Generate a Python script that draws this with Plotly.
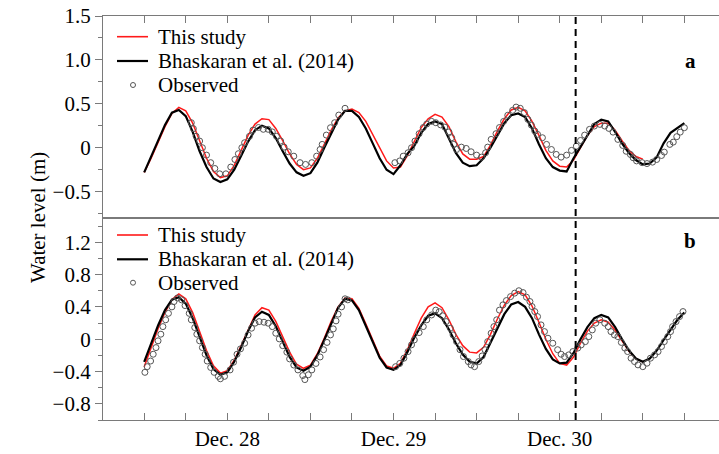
import plotly.graph_objects as go

# hours from Dec 27 12:00, hourly model output
hours = list(range(0, 79))

study_a = [-0.28, -0.12, 0.06, 0.24, 0.39, 0.46, 0.42, 0.28, 0.08, -0.12,
           -0.27, -0.34, -0.32, -0.20, -0.03, 0.14, 0.27, 0.33, 0.32, 0.22,
           0.08, -0.07, -0.19, -0.25, -0.23, -0.12, 0.04, 0.20, 0.34, 0.42,
           0.44, 0.40, 0.30, 0.15, -0.01, -0.15, -0.23, -0.22, -0.09, 0.08,
           0.23, 0.33, 0.38, 0.35, 0.24, 0.07, -0.07, -0.13, -0.13, -0.10,
           0.03, 0.19, 0.33, 0.43, 0.46, 0.42, 0.30, 0.14, -0.03, -0.15,
           -0.21, -0.22, -0.14, 0.00, 0.14, 0.24, 0.28, 0.28, 0.20, 0.08,
           -0.03, -0.10, -0.13, None, None, None, None, None, None]

bhaskaran_a = [-0.28, -0.10, 0.08, 0.26, 0.40, 0.43, 0.36, 0.18, -0.04, -0.22,
               -0.35, -0.39, -0.36, -0.25, -0.09, 0.07, 0.20, 0.25, 0.22, 0.11,
               -0.04, -0.18, -0.28, -0.32, -0.29, -0.17, 0.00, 0.17, 0.32, 0.42,
               0.42, 0.35, 0.22, 0.05, -0.12, -0.25, -0.30, -0.20, -0.07, 0.02,
               0.17, 0.27, 0.30, 0.27, 0.10, -0.06, -0.17, -0.21, -0.20, -0.12,
               0.00, 0.14, 0.28, 0.37, 0.39, 0.35, 0.22, 0.04, -0.12, -0.22,
               -0.26, -0.27, -0.12, 0.01, 0.14, 0.27, 0.32, 0.30, 0.18, 0.05,
               -0.06, -0.14, -0.19, -0.18, -0.11, 0.05, 0.17, 0.23, 0.28]

obs_a_t = [6.8, 7.1, 7.5, 8.0, 8.4, 9.0, 9.6, 10.2, 10.9, 11.8, 12.5, 13.1, 13.6,
           14.1, 14.5, 15.2, 15.7, 16.5, 17.2, 17.9, 18.5, 19.1, 19.7, 20.2, 20.8,
           21.6, 22.5, 23.3, 24.2, 24.9, 25.4, 25.7, 26.3, 26.9, 27.5, 28.1, 29.0,
           None,
           36.2, 36.9, 37.4, 38.1, 38.6, 39.1, 39.7, 40.3, 40.8, 41.5, 42.1, 42.8,
           43.4, 44.0, 44.4, 44.7, 45.1, 45.8, 46.5, 47.2, 48.0, 48.7, 49.3, 49.6,
           50.1, 50.8, 51.3, 51.9, 52.5, 53.2, 53.7, 54.3, 54.9, 55.4, 55.9, 56.4,
           56.8, 57.5, 58.1, 58.8, 59.5, 60.2, 61.0, 61.7, 62.4, 63.0, 63.6, 64.3,
           65.0, 65.8, 66.5, 67.1, 67.7, 68.4, 69.1, 69.6, 70.2, 70.6, 71.1, 71.9,
           72.6, 73.4, 74.0, 74.7, 75.1, 75.9, 76.4, 76.9, 77.4, 78.0]
obs_a_v = [0.285, 0.217, 0.13, 0.076, 0.0, -0.084, -0.17, -0.236, -0.297, -0.297,
           -0.22, -0.134, -0.068, 0.0, 0.057, 0.13, 0.2, 0.23, 0.21, 0.21, 0.18,
           0.13, 0.076, 0.007, -0.046, -0.096, -0.17, -0.19, -0.17, -0.096, -0.02,
           0.038, 0.144, 0.228, 0.285, 0.372, 0.449,
           None,
           -0.17, -0.15, -0.096, -0.057, 0.0, 0.076, 0.16, 0.23, 0.27, 0.30, 0.285,
           0.26, 0.235, 0.18, 0.114, 0.038, -0.02, 0.007, -0.008, -0.046, -0.084,
           -0.107, -0.057, 0.007, 0.095, 0.16, 0.23, 0.30, 0.37, 0.426, 0.463,
           0.449, 0.40, 0.323, 0.258, 0.19, 0.152, 0.114, 0.038, -0.02, -0.076,
           -0.107, -0.084, -0.03, 0.018, 0.083, 0.144, 0.209, 0.247, 0.266, 0.247,
           0.22, 0.178, 0.095, 0.026, -0.04, -0.076, -0.114, -0.15, -0.17, -0.18,
           -0.164, -0.134, -0.088, -0.05, 0.038, 0.064, 0.126, 0.178, 0.228]

study_b = [-0.34, -0.10, 0.13, 0.33, 0.49, 0.56, 0.50, 0.33, 0.10, -0.14,
           -0.33, -0.42, -0.39, -0.26, -0.08, 0.12, 0.30, 0.39, 0.36, 0.22,
           0.03, -0.16, -0.31, -0.36, -0.32, -0.18, 0.01, 0.22, 0.40, 0.51,
           0.50, 0.38, 0.19, -0.02, -0.21, -0.33, -0.36, -0.30, -0.13, 0.07,
           0.26, 0.40, 0.45, 0.39, 0.24, 0.06, -0.08, -0.16, -0.17, -0.10,
           0.06, 0.25, 0.42, 0.54, 0.59, 0.55, 0.41, 0.21, 0.00, -0.18,
           -0.30, -0.32, -0.22, -0.05, 0.10, 0.20, 0.24, 0.21, 0.11, -0.02,
           -0.15, -0.24, -0.28, None, None, None, None, None, None]

bhaskaran_b = [-0.28, -0.05, 0.17, 0.36, 0.49, 0.52, 0.44, 0.26, 0.03, -0.20,
               -0.37, -0.44, -0.41, -0.28, -0.10, 0.10, 0.27, 0.34, 0.30, 0.16,
               -0.03, -0.22, -0.35, -0.39, -0.34, -0.20, -0.01, 0.20, 0.39, 0.50,
               0.48, 0.36, 0.17, -0.04, -0.23, -0.35, -0.38, -0.32, -0.16, 0.02,
               0.17, 0.29, 0.32, 0.26, 0.12, -0.05, -0.19, -0.28, -0.30, -0.22,
               -0.05, 0.14, 0.31, 0.43, 0.46, 0.40, 0.26, 0.06, -0.12, -0.25,
               -0.30, -0.29, -0.17, 0.00, 0.15, 0.26, 0.30, 0.27, 0.15, 0.00,
               -0.14, -0.24, -0.28, -0.24, -0.14, -0.01, 0.12, 0.24, 0.33]

obs_b_t = [0.1, 0.43, 0.92, 1.3, 1.7, 2.0, 2.4, 2.7, 3.1, 3.5, 4.0, 4.3, 4.8, 5.4,
           5.9, 6.5, 6.8, 7.3, 7.6, 8.0, 8.4, 8.8, 9.1, 9.6, 10.1, 10.7, 11.0, 11.6,
           12.4, 12.9, 13.4, 13.9, 14.5, 15.0, 15.5, 16.0, 16.6, 17.3, 17.9, 18.5,
           19.0, 19.5, 20.0, 20.6, 21.0, 21.6, 22.2, 22.9, 23.2, 23.7, 24.2, 24.8,
           25.4, 25.9, 26.4, 26.9, 27.3, 27.7, 28.0, 28.5, 29.0, 29.4,
           None,
           36.3, 36.9, 37.5, 38.1, 38.6, 39.0, 39.7, 40.3, 40.8, 41.5, 42.1, 42.6,
           43.1, 43.6, 44.2, 44.6, 45.1, 45.6, 46.1, 46.8, 47.2, 47.7, 48.3, 48.8,
           49.2, 49.6, 50.1, 50.5, 50.9, 51.3, 51.8, 52.3, 52.9, 53.5, 54.1, 54.7,
           55.2, 55.7, 56.0, 56.4, 56.8, 57.3, 57.8, 58.3, 59.0, 59.7, 60.2, 60.7,
           61.3, 61.9, 62.6, 63.1, 63.7, 64.2, 64.7, 65.2, 65.8, 66.5, 67.0, 67.4,
           67.9, 68.4, 68.9, 69.4, 69.8, 70.3, 70.8, 71.3, 72.0, 72.6, 73.1, 73.7,
           74.2, 74.7, 75.1, 75.6, 76.0, 76.3, 76.8, 77.3, 77.8]
obs_b_v = [-0.41, -0.34, -0.27, -0.186, -0.104, -0.02, 0.062, 0.156, 0.24, 0.32,
           0.40, 0.466, 0.51, 0.487, 0.416, 0.32, 0.24, 0.144, 0.062, -0.02,
           -0.104, -0.186, -0.27, -0.35, -0.41, -0.46, -0.49, -0.46, -0.38, -0.285,
           -0.186, -0.12, -0.05, 0.053, 0.136, 0.198, 0.218, 0.21, 0.198, 0.156,
           0.074, 0.004, -0.08, -0.16, -0.244, -0.32, -0.38, -0.45, -0.50, -0.44,
           -0.38, -0.30, -0.22, -0.13, -0.04, 0.053, 0.128, 0.227, 0.31, 0.40,
           0.50, 0.487,
           None,
           -0.34, -0.30, -0.235, -0.153, -0.07, -0.009, 0.082, 0.156, 0.24, 0.30,
           0.36, 0.34, 0.29, 0.218, 0.136, 0.053, -0.03, -0.13, -0.215, -0.277,
           -0.318, -0.34, -0.277, -0.207, -0.13, -0.03, 0.074, 0.156, 0.24, 0.36,
           0.425, 0.478, 0.527, 0.57, 0.60, 0.577, 0.52, 0.466, 0.404, 0.342,
           0.28, 0.177, 0.094, 0.012, -0.05, -0.13, -0.186, -0.215, -0.194, -0.153,
           -0.11, -0.07, -0.03, 0.032, 0.115, 0.198, 0.24, 0.198, 0.156, 0.094,
           0.053, 0.032, -0.04, -0.11, -0.153, -0.235, -0.277, -0.318, -0.34,
           -0.297, -0.235, -0.194, -0.153, -0.09, -0.03, 0.032, 0.094, 0.156,
           0.218, 0.28, 0.342]

x_tickvals = list(range(0, 79, 6))
x_ticktext = ["", "", "Dec. 28", "", "", "", "Dec. 29", "", "", "", "Dec. 30", "", "", ""]
ya_tickvals = [-0.5, 0, 0.5, 1.0, 1.5]
ya_ticktext = ["\u22120.5", "0", "0.5", "1.0", "1.5"]
yb_tickvals = [-0.8, -0.4, 0, 0.4, 0.8, 1.2]
yb_ticktext = ["\u22120.8", "\u22120.4", "0", "0.4", "0.8", "1.2"]
legend_names = ["This study", "Bhaskaran et al. (2014)", "Observed"]
dashed_hour = 62.3

RED = "#ff1a1a"
BLACK = "#000000"
GREY = "#7a7a7a"
MARK = "#555555"
FONT = "Liberation Serif, serif"
FS = 21

W, H = 719, 454
ML, MR, MT, MB = 103, 0, 16, 34
PW, PH = W - ML - MR, H - MT - MB


def px_x(px):
    return (px - ML) / PW


def px_y(py):
    return (H - MB - py) / PH


fig = go.Figure()


def add_panel(xaxis, yaxis, study, bhask, ot, ov):
    fig.add_trace(go.Scatter(x=hours, y=study, mode="lines", name=legend_names[0],
                             line=dict(color=RED, width=1.5), xaxis=xaxis, yaxis=yaxis,
                             showlegend=False))
    fig.add_trace(go.Scatter(x=hours, y=bhask, mode="lines", name=legend_names[1],
                             line=dict(color=BLACK, width=2.2), xaxis=xaxis, yaxis=yaxis,
                             showlegend=False))
    fig.add_trace(go.Scatter(x=ot, y=ov, mode="markers", name=legend_names[2],
                             marker=dict(symbol="circle-open", size=6, color=MARK,
                                         line=dict(width=1)),
                             xaxis=xaxis, yaxis=yaxis, showlegend=False))


add_panel("x", "y", study_a, bhaskaran_a, obs_a_t, obs_a_v)
add_panel("x2", "y2", study_b, bhaskaran_b, obs_b_t, obs_b_v)

# legend keys drawn in paper space (one block per panel)
shapes = [dict(type="line", xref="x", yref="paper", x0=dashed_hour, x1=dashed_hour,
               y0=0, y1=1, line=dict(color="black", width=2, dash="7px,5px"))]
annotations = []
for rows in ([36.7, 61.0, 85.0], [235.0, 259.3, 282.7]):
    shapes.append(dict(type="line", xref="paper", yref="paper", x0=px_x(117), x1=px_x(148),
                       y0=px_y(rows[0]), y1=px_y(rows[0]), line=dict(color=RED, width=1.6)))
    shapes.append(dict(type="line", xref="paper", yref="paper", x0=px_x(117), x1=px_x(148),
                       y0=px_y(rows[1]), y1=px_y(rows[1]), line=dict(color=BLACK, width=2.2)))
    shapes.append(dict(type="circle", xref="paper", yref="paper", x0=px_x(130.5), x1=px_x(135.5),
                       y0=px_y(rows[2] + 2.5), y1=px_y(rows[2] - 2.5),
                       line=dict(color=MARK, width=1)))
    for name, r in zip(legend_names, rows):
        annotations.append(dict(text=name, xref="paper", yref="paper", x=px_x(155.5), y=px_y(r),
                                xanchor="left", yanchor="middle", showarrow=False,
                                font=dict(family=FONT, size=FS, color="black")))

annotations += [
    dict(text="Water level (m)", xref="paper", yref="paper", x=px_x(24), y=px_y(218),
         textangle=-90, showarrow=False, font=dict(family=FONT, size=FS)),
    dict(text="<b>a</b>", xref="paper", yref="paper", x=px_x(698), y=px_y(47),
         showarrow=False, font=dict(family=FONT, size=FS)),
    dict(text="<b>b</b>", xref="paper", yref="paper", x=px_x(698), y=px_y(241),
         showarrow=False, font=dict(family=FONT, size=FS)),
]

xrange = [-5.95, 83.0]
axis_common = dict(showline=True, linecolor=GREY, linewidth=1.2, showgrid=False,
                   zeroline=False, tickcolor=GREY,
                   tickfont=dict(family=FONT, size=FS, color="black"))

fig.update_layout(
    width=W, height=H,
    margin=dict(l=ML, r=MR, t=MT, b=MB),
    paper_bgcolor="white", plot_bgcolor="white",
    font=dict(family=FONT, size=FS, color="black"),
    showlegend=False,
    xaxis=dict(domain=[0, 1], anchor="y", range=xrange, side="top", tickmode="array",
               tickvals=x_tickvals, ticks="inside", ticklen=7, showticklabels=False,
               mirror=True, **axis_common),
    yaxis=dict(domain=[0.5, 1], anchor="x", range=[-0.8, 1.5], tickmode="array",
               tickvals=ya_tickvals, ticktext=ya_ticktext, ticks="outside", ticklen=7,
               minor=dict(dtick=0.25, tick0=0, ticks="outside", ticklen=4, tickcolor=GREY),
               **axis_common),
    xaxis2=dict(domain=[0, 1], anchor="y2", range=xrange, tickmode="array",
                tickvals=x_tickvals, ticktext=x_ticktext, ticks="inside", ticklen=7,
                mirror=True, **axis_common),
    yaxis2=dict(domain=[0, 0.5], anchor="x2", range=[-1.0, 1.5], tickmode="array",
                tickvals=yb_tickvals, ticktext=yb_ticktext, ticks="outside", ticklen=7,
                minor=dict(dtick=0.2, tick0=0, ticks="outside", ticklen=4, tickcolor=GREY),
                **axis_common),
    yaxis3=dict(overlaying="y", side="right", anchor="x", range=[-0.8, 1.5], tickmode="array",
                tickvals=ya_tickvals, ticks="inside", ticklen=4, tickcolor=GREY,
                showticklabels=False, showgrid=False, zeroline=False, showline=False),
    yaxis4=dict(overlaying="y2", side="right", anchor="x2", range=[-1.0, 1.5], tickmode="array",
                tickvals=yb_tickvals, ticks="inside", ticklen=4, tickcolor=GREY,
                showticklabels=False, showgrid=False, zeroline=False, showline=False),
    shapes=shapes,
    annotations=annotations,
)

fig.write_html("out.html", config={"displayModeBar": False},
               post_script="document.body.style.margin='0px';")
